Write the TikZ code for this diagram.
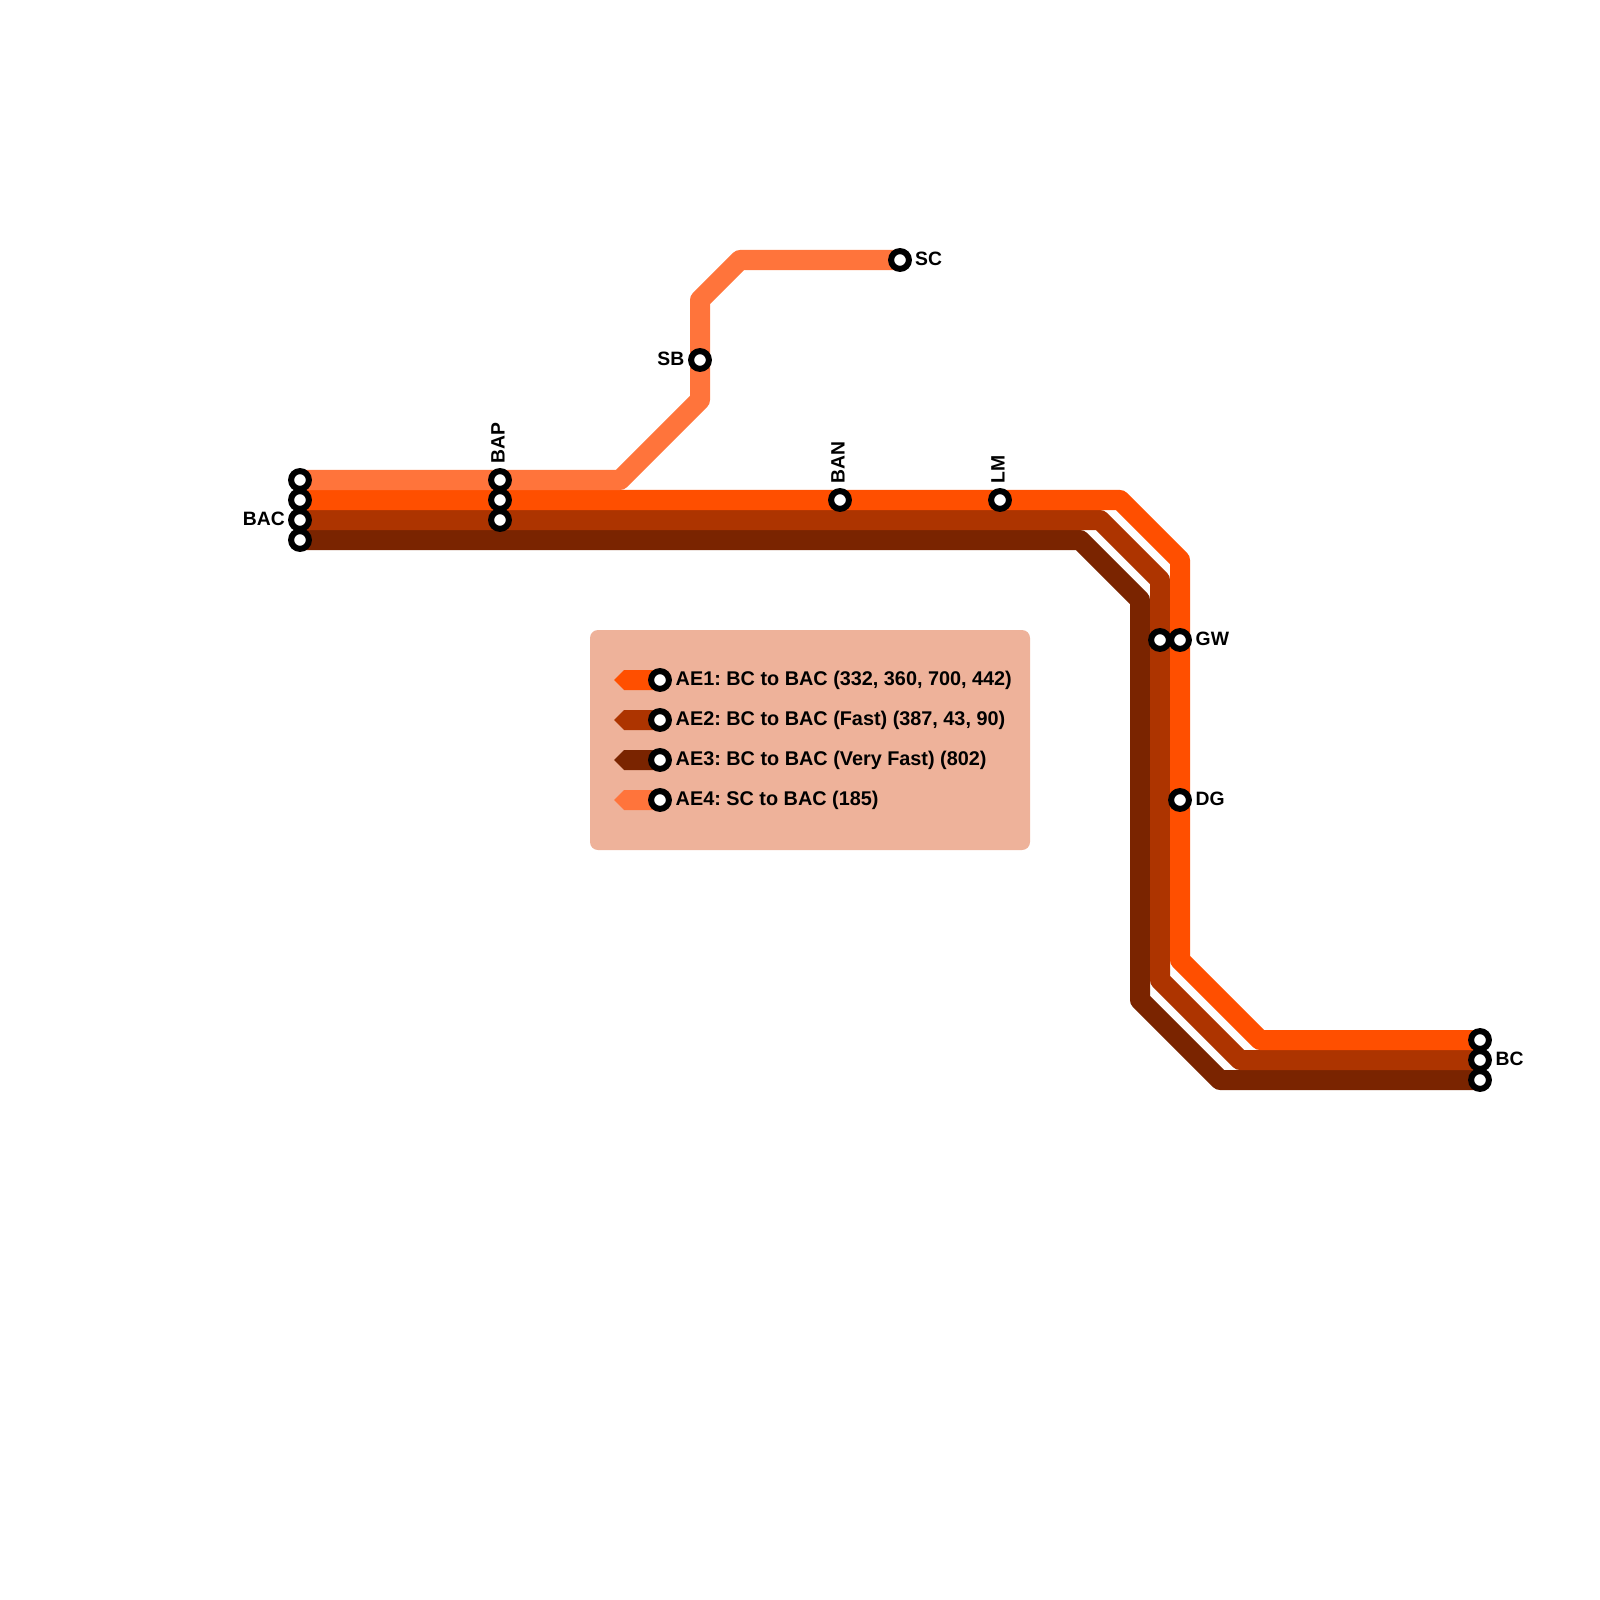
\documentclass[tikz,border=0pt]{standalone}
\usepackage{fontspec}
\setmainfont{Liberation Sans}
\usepackage{xcolor}
\usetikzlibrary{backgrounds}

\definecolor{aeone}{HTML}{FF4F00}
\definecolor{aetwo}{HTML}{AD3400}
\definecolor{aethree}{HTML}{7A2400}
\definecolor{aefour}{HTML}{FF743B}
\definecolor{legfill}{HTML}{EEB29A}

\begin{document}
\frenchspacing
\begin{tikzpicture}[
  x=0.01cm, y=-0.01cm,
  station/.style={circle, draw=black, fill=white, line width=0.06cm,
                  minimum size=0.178cm, inner sep=0pt},
  stnlabel/.style={font=\fontsize{5.5}{7}\selectfont\bfseries, text=black,
                   inner sep=0pt, text height=0.14cm, text depth=0pt},
  leglabel/.style={stnlabel, font=\fontsize{5.64}{7}\selectfont\bfseries, anchor=west},
  route/.style={line width=0.2cm, line join=round}
]
\useasboundingbox (0,0) rectangle (1600,1600);

% stations
\foreach \n/\x/\y in {bacd/300/480, baca/300/500, bacb/300/520, bacc/300/540,
                      bapd/500/480, bapa/500/500, bapb/500/520,
                      ban/840/500, lm/1000/500, sb/700/360, sc/900/260,
                      gwb/1160/640, gwa/1180/640, dg/1180/800,
                      bca/1480/1040, bcb/1480/1060, bcc/1480/1080}{
  \node[station] (\n) at (\x,\y) {};
}

% station names
\node[stnlabel, anchor=east] (lblbac) at (285.5,518) {BAC};
\node[stnlabel, anchor=west, rotate=90] (lblbap) at (497.5,464.5) {BAP};
\node[stnlabel, anchor=west, rotate=90] (lblban) at (837.5,484.5) {BAN};
\node[stnlabel, anchor=west, rotate=90] (lbllm) at (997.5,484.5) {LM};
\node[stnlabel, anchor=east] (lblsb) at (685,358) {SB};
\node[stnlabel, anchor=west] (lblsc) at (914.5,258) {SC};
\node[stnlabel, anchor=west] (lblgw) at (1195,638) {GW};
\node[stnlabel, anchor=west] (lbldg) at (1195,798) {DG};
\node[stnlabel, anchor=west] (lblbc) at (1495,1058) {BC};

% legend stations and texts
\foreach \n/\y/\t in {lega/680/{AE1: BC to BAC (332, 360, 700, 442)},
                      legb/720/{AE2: BC to BAC (Fast) (387, 43, 90)},
                      legc/760/{AE3: BC to BAC (Very Fast) (802)},
                      legd/800/{AE4: SC to BAC (185)}}{
  \node[station] (\n) at (660,\y) {};
  \node[leglabel] (\n txt) at (675,\y-2) {\t};
}

% bends
\coordinate (aeaa) at (1120,500);
\coordinate (aeab) at (1180,560);
\coordinate (aeac) at (1180,960);
\coordinate (aead) at (1260,1040);
\coordinate (aeba) at (1100,520);
\coordinate (aebb) at (1160,580);
\coordinate (aebc) at (1160,980);
\coordinate (aebd) at (1240,1060);
\coordinate (aeca) at (1080,540);
\coordinate (aecb) at (1140,600);
\coordinate (aecc) at (1140,1000);
\coordinate (aecd) at (1220,1080);
\coordinate (aeda) at (620,480);
\coordinate (aedb) at (700,400);
\coordinate (aedc) at (700,300);
\coordinate (aedd) at (740,260);

\begin{scope}[on background layer]
  \fill[legfill, rounded corners=0.08cm] (590,630) rectangle (1030,850);

  % legend swatches
  \foreach \y/\c in {680/aeone, 720/aetwo, 760/aethree, 800/aefour}{
    \fill[\c] (614,\y) -- (624,\y-10) -- (660,\y-10) -- (660,\y+10) -- (624,\y+10) -- cycle;
  }

  % routes
  \draw[route, draw=aethree] (bacc.center) -- (aeca) -- (aecb) -- (aecc) -- (aecd) -- (bcc.center);
  \draw[route, draw=aetwo] (bacb.center) -- (bapb.center) -- (aeba) -- (aebb) -- (gwb.center)
    -- (aebc) -- (aebd) -- (bcb.center);
  \draw[route, draw=aeone] (baca.center) -- (bapa.center) -- (ban.center) -- (lm.center) -- (aeaa)
    -- (aeab) -- (gwa.center) -- (dg.center) -- (aeac) -- (aead) -- (bca.center);
  \draw[route, draw=aefour] (bacd.center) -- (bapd.center) -- (aeda) -- (aedb) -- (sb.center)
    -- (aedc) -- (aedd) -- (sc.center);
\end{scope}
\end{tikzpicture}
\end{document}
